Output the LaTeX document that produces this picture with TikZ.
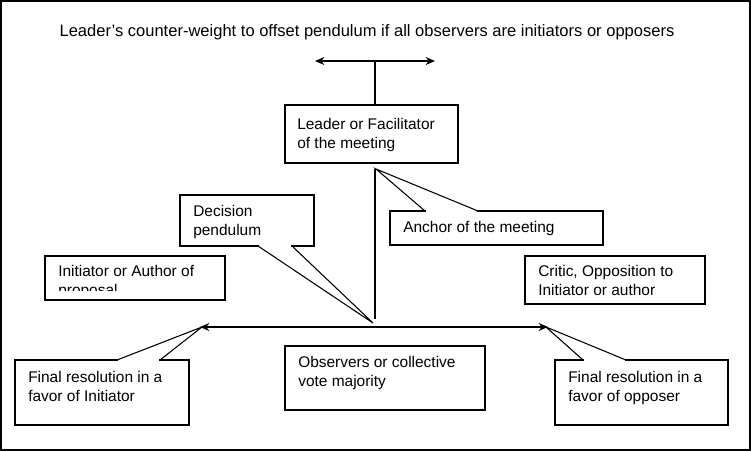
\documentclass[tikz,border=0pt]{standalone}
\usepackage{fontspec}
\setmainfont{Liberation Sans}
\usetikzlibrary{arrows.meta}
\begin{document}
\begin{tikzpicture}[x=0.75pt,y=-0.75pt,
  box/.style={draw=black,fill=white,line width=0.8pt},
  txt/.style={anchor=north west,inner sep=0pt,align=left,font=\fontsize{11.6}{14.3}\selectfont},
  ln/.style={line width=0.8pt},
  arr/.style={line width=1pt,{Stealth[length=7pt,width=6pt]}-{Stealth[length=7pt,width=6pt]}}]
\useasboundingbox (0,0) rectangle (751,451);
\draw[line width=1pt] (1,1) rectangle (750,450);
\node[txt,anchor=center,font=\fontsize{12.4}{14}\selectfont] (title) at (367,32) {Leader’s counter-weight to offset pendulum if all observers are initiators or opposers};
% top arrow
\coordinate (tl) at (315,61); \coordinate (tr) at (435,61); \coordinate (tm) at (375,61);
\draw[arr] (tl) -- (tr);
\coordinate (lt) at (375,105);
\draw[ln] (tm) -- (lt);
% leader
\draw[box] (285,105) rectangle (458,163);
\node[txt] (leader) at (297,118) {Leader or Facilitator\\of the meeting};
% pendulum vertical
\coordinate (vtop) at (375,169); \coordinate (vbot) at (375,319);
\draw[ln] (vtop) -- (vbot);
% anchor callout
\draw[box] (390,211) rectangle (603,245);
\coordinate (atip) at (376,169);
\fill[white] (425.6,209) rectangle (477.4,213);
\draw[ln] (425,211) -- (atip) -- (478,211);
\node[txt] (anchor) at (403,221) {Anchor of the meeting};
% decision callout
\draw[box] (180,195) rectangle (314,246);
\coordinate (dtip) at (373,323);
\fill[white] (258.6,244) rectangle (291.4,248);
\draw[ln] (258,246) -- (dtip) -- (292,246);
\node[txt] (decision) at (193,205) {Decision\\pendulum};
% initiator
\draw[box] (45,256) rectangle (225,300);
\begin{scope}
\clip (46,257) rectangle (224,290);
\node[txt] (init) at (58,265) {Initiator or Author of\\proposal};
\end{scope}
% critic
\draw[box] (525,256) rectangle (705,304);
\node[txt] (critic) at (538,265) {Critic, Opposition to\\Initiator or author};
% horizontal arrow
\coordinate (hl) at (200,327); \coordinate (hr) at (548,327);
\draw[arr] (hl) -- (hr);
% final left
\draw[box] (15,360) rectangle (189,425);
\coordinate (fltip) at (202,327);
\fill[white] (117.6,358) rectangle (159.4,362);
\draw[ln] (117,360) -- (fltip) -- (160,360);
\node[txt] (fl) at (28,371) {Final resolution in a\\favor of Initiator};
% observers
\draw[box] (285,346) rectangle (485,410);
\node[txt] (obs) at (298,356) {Observers or collective\\vote majority};
% final right
\draw[box] (555,360) rectangle (728,425);
\coordinate (frtip) at (546,327);
\fill[white] (583.6,358) rectangle (625.4,362);
\draw[ln] (583,360) -- (frtip) -- (626,360);
\node[txt] (fr) at (568,371) {Final resolution in a\\favor of opposer};
\end{tikzpicture}
\end{document}
